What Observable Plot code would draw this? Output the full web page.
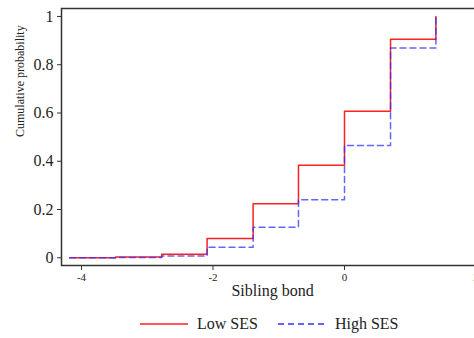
<!DOCTYPE html>
<html><head><meta charset="utf-8">
<script src="https://cdn.jsdelivr.net/npm/d3@7"></script>
<script src="https://cdn.jsdelivr.net/npm/@observablehq/plot@0.6"></script>
<style>
body{margin:0;background:#fff;font-family:'Liberation Serif','Times New Roman','DejaVu Serif',serif;}
#legend{display:flex;align-items:center;height:28px;margin-left:140px;font-size:16px;color:#222;}
#legend .item{display:flex;align-items:center;margin-right:20px;}
#legend svg{margin-right:9px;}
svg text{font-family:'Liberation Serif','Times New Roman','DejaVu Serif',serif;}
</style>
</head><body><div id="chart"></div><div id="legend"></div>
<script>
const bondValues = [-4.18, -3.48, -2.78, -2.09, -1.39, -0.70, 0, 0.70, 1.39];
const lowSES  = [0, 0.003, 0.015, 0.080, 0.224, 0.383, 0.607, 0.906, 1.0];
const highSES = [0, 0.001, 0.007, 0.044, 0.127, 0.240, 0.465, 0.869, 1.0];
const xTicks = [-4, -2, 0, 2];
const yTicks = [0, 0.2, 0.4, 0.6, 0.8, 1];
const seriesNames = ["Low SES", "High SES"];
const seriesColors = ["#ff2020", "#3030ff"];
const seriesDash = [null, "6,4"];

const lowData = bondValues.map((x, i) => ({x, y: lowSES[i]}));
const highData = bondValues.map((x, i) => ({x, y: highSES[i]}));

const serif = "'Liberation Serif','Times New Roman','DejaVu Serif',serif";
const plot = Plot.plot({
  width: 474, height: 310,
  marginLeft: 61, marginRight: -9, marginTop: 8, marginBottom: 45,
  style: {fontFamily: serif, background: "white", color: "#222"},
  x: {domain: [-4.304, 2.114]},
  y: {domain: [-0.032, 1.033]},
  marks: [
    Plot.frame({stroke: "#333", strokeWidth: 1.5}),
    Plot.axisY({ticks: yTicks, tickFormat: d => String(d), tickSize: 4, tickPadding: 4, fontSize: 16, label: null, stroke: "#333"}),
    Plot.axisX({ticks: xTicks, tickFormat: d => String(d), tickSize: 5, tickPadding: 3, fontSize: 11, label: null, stroke: "#333"}),
    Plot.line(lowData, {x: "x", y: "y", curve: "step-after", stroke: seriesColors[0], strokeWidth: 1.5}),
    Plot.line(highData, {x: "x", y: "y", curve: "step-after", stroke: seriesColors[1], strokeWidth: 1.5, strokeDasharray: seriesDash[1], strokeOpacity: 0.75}),
    Plot.text(["Cumulative probability"], {frameAnchor: "left", rotate: -90, dx: -41, fontSize: 12, fill: "#222"}),
    Plot.text(["Sibling bond"], {frameAnchor: "bottom", dy: 30, fontSize: 16, fill: "#222"})
  ]
});
document.getElementById("chart").appendChild(plot);

const legend = document.getElementById("legend");
seriesNames.forEach((name, i) => {
  const item = document.createElement("div");
  item.className = "item";
  item.innerHTML = `<svg width="48" height="10"><line x1="0" x2="48" y1="5" y2="5" stroke="${seriesColors[i]}" stroke-width="1.5" ${seriesDash[i] ? `stroke-dasharray="${seriesDash[i]}"` : ""}/></svg><span>${name}</span>`;
  legend.appendChild(item);
});
</script>
</body></html>
